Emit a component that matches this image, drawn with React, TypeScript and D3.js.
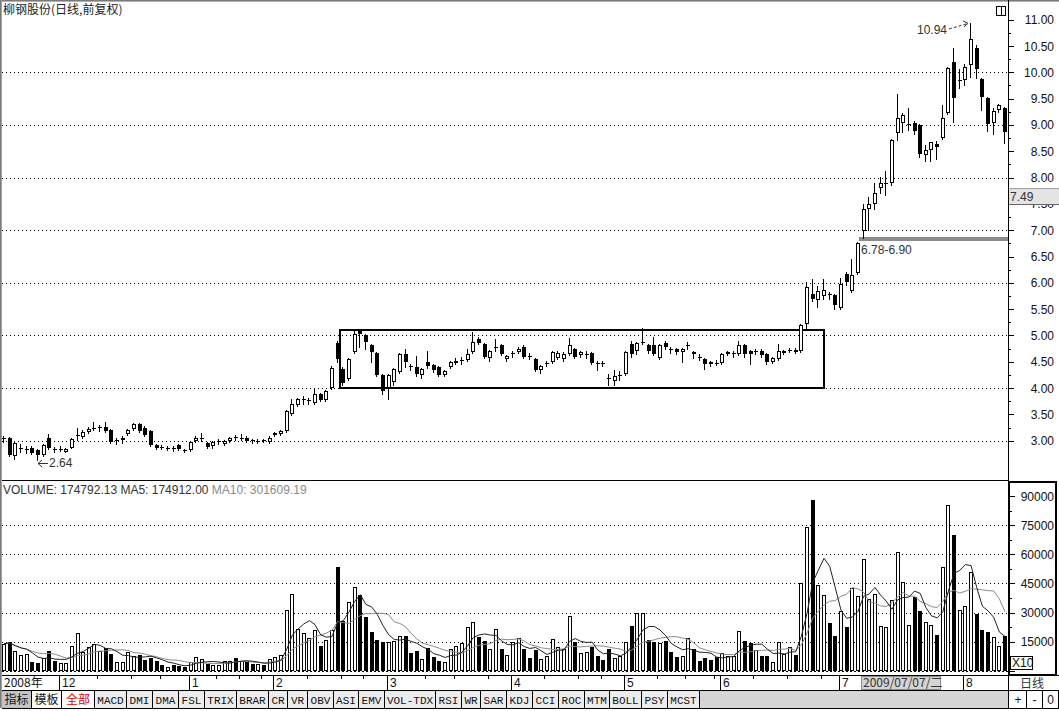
import React from 'react';
import * as d3 from 'd3';

// ---- Daily candles (Nov 2008 – Aug 2009), 柳钢股份 前复权 ----
const OPEN = [
  3.03, 3.06, 2.70, 2.85, 2.83, 2.87, 2.82, 2.72, 3.06, 2.84,
  2.84, 2.79, 2.87, 3.09, 3.07, 3.17, 3.24, 3.25, 3.26, 3.20,
  3.00, 3.02, 3.13, 3.22, 3.31, 3.25, 3.18, 2.92, 2.88, 2.85,
  2.86, 2.92, 2.83, 2.82, 3.00, 3.04, 2.95, 2.89, 2.98, 2.94,
  2.99, 3.07, 3.04, 3.05, 3.01, 2.98, 3.01, 2.97, 3.10, 3.13,
  3.19, 3.51, 3.67, 3.78, 3.76, 3.72, 3.89, 3.78, 4.01, 4.86,
  4.37, 4.18, 4.69, 5.09, 5.00, 4.81, 4.67, 4.24, 4.01, 4.11,
  4.30, 4.65, 4.41, 4.40, 4.24, 4.49, 4.43, 4.40, 4.24, 4.40,
  4.47, 4.53, 4.54, 4.69, 4.94, 4.84, 4.58, 4.77, 4.81, 4.56,
  4.65, 4.69, 4.79, 4.61, 4.56, 4.34, 4.46, 4.49, 4.58, 4.56,
  4.65, 4.75, 4.63, 4.64, 4.67, 4.47, 4.48, 4.19, 4.14, 4.23,
  4.26, 4.84, 4.71, 4.87, 4.81, 4.82, 4.58, 4.86, 4.74, 4.75,
  4.69, 4.80, 4.69, 4.60, 4.56, 4.49, 4.48, 4.47, 4.65, 4.65,
  4.65, 4.81, 4.71, 4.69, 4.71, 4.65, 4.49, 4.56, 4.67, 4.72,
  4.73, 4.70, 5.22, 5.79, 5.67, 5.75, 5.78, 5.76, 5.53, 6.17,
  5.85, 6.19, 6.99, 7.41, 7.49, 7.81, 7.88, 7.89, 8.84, 9.03,
  9.00, 9.03, 8.99, 8.42, 8.53, 8.64, 8.76, 9.22, 10.19, 9.85,
  9.86, 10.13, 10.47, 9.88, 9.52, 9.03, 9.29, 9.33,
];
const HIGH = [
  3.08, 3.07, 2.98, 2.93, 2.90, 2.89, 2.84, 2.93, 3.12, 2.88,
  2.89, 2.87, 3.05, 3.24, 3.20, 3.26, 3.35, 3.30, 3.35, 3.22,
  3.06, 3.08, 3.22, 3.33, 3.33, 3.27, 3.20, 2.94, 2.91, 2.90,
  2.89, 2.94, 2.85, 2.99, 3.08, 3.14, 2.98, 2.99, 3.03, 3.02,
  3.07, 3.10, 3.12, 3.08, 3.04, 3.03, 3.03, 3.08, 3.17, 3.20,
  3.59, 3.80, 3.82, 3.85, 3.82, 4.00, 3.91, 3.97, 4.41, 4.90,
  4.40, 4.58, 5.08, 5.12, 5.02, 4.83, 4.69, 4.26, 4.27, 4.39,
  4.67, 4.75, 4.46, 4.61, 4.39, 4.70, 4.45, 4.42, 4.35, 4.51,
  4.58, 4.60, 4.75, 5.07, 4.98, 4.86, 4.73, 4.94, 4.83, 4.63,
  4.70, 4.79, 4.81, 4.66, 4.58, 4.43, 4.52, 4.71, 4.70, 4.68,
  4.95, 4.77, 4.70, 4.70, 4.69, 4.52, 4.52, 4.26, 4.35, 4.33,
  4.70, 4.90, 4.88, 5.15, 4.83, 4.98, 4.84, 4.90, 4.79, 4.77,
  4.77, 4.88, 4.71, 4.65, 4.58, 4.51, 4.54, 4.67, 4.71, 4.70,
  4.90, 4.84, 4.73, 4.75, 4.74, 4.67, 4.59, 4.83, 4.73, 4.77,
  4.76, 5.21, 6.02, 6.08, 5.94, 6.08, 5.82, 5.78, 6.09, 6.20,
  6.45, 6.78, 7.50, 7.63, 7.90, 8.01, 8.12, 8.74, 9.58, 9.22,
  9.32, 9.08, 9.01, 8.62, 8.68, 8.70, 9.37, 10.11, 10.47, 10.06,
  10.16, 10.94, 10.52, 9.90, 9.54, 9.32, 9.40, 9.35,
];
const LOW = [
  2.98, 2.70, 2.66, 2.78, 2.76, 2.75, 2.64, 2.70, 2.85, 2.78,
  2.80, 2.78, 2.86, 3.02, 3.05, 3.15, 3.20, 3.18, 3.17, 2.95,
  2.94, 2.96, 3.11, 3.20, 3.17, 3.08, 2.90, 2.85, 2.84, 2.82,
  2.81, 2.83, 2.79, 2.80, 2.98, 3.00, 2.86, 2.87, 2.94, 2.92,
  2.97, 3.02, 3.01, 2.98, 2.96, 2.95, 2.97, 2.95, 3.08, 3.11,
  3.17, 3.49, 3.65, 3.69, 3.70, 3.70, 3.76, 3.76, 3.99, 4.50,
  4.05, 4.16, 4.67, 4.78, 4.74, 4.50, 4.22, 3.88, 3.80, 4.05,
  4.28, 4.40, 4.35, 4.22, 4.20, 4.39, 4.30, 4.22, 4.22, 4.38,
  4.45, 4.45, 4.52, 4.67, 4.84, 4.57, 4.52, 4.70, 4.63, 4.52,
  4.60, 4.67, 4.58, 4.55, 4.32, 4.28, 4.42, 4.47, 4.55, 4.52,
  4.63, 4.58, 4.60, 4.58, 4.45, 4.34, 4.41, 4.05, 4.05, 4.15,
  4.24, 4.60, 4.65, 4.84, 4.66, 4.63, 4.56, 4.74, 4.66, 4.64,
  4.50, 4.74, 4.58, 4.54, 4.37, 4.42, 4.43, 4.45, 4.62, 4.60,
  4.63, 4.60, 4.46, 4.65, 4.60, 4.46, 4.47, 4.54, 4.64, 4.68,
  4.66, 4.68, 5.12, 5.66, 5.55, 5.70, 5.70, 5.51, 5.51, 5.96,
  5.83, 6.17, 6.85, 7.00, 7.40, 7.70, 7.66, 7.85, 8.72, 8.86,
  8.90, 8.82, 8.40, 8.31, 8.32, 8.35, 8.74, 9.20, 9.06, 9.70,
  9.75, 9.92, 9.90, 9.28, 8.89, 8.82, 9.25, 8.65,
];
const CLOSE = [
  3.05, 2.72, 2.96, 2.86, 2.84, 2.77, 2.72, 2.91, 2.87, 2.83,
  2.85, 2.85, 3.03, 3.10, 3.16, 3.23, 3.25, 3.26, 3.19, 2.97,
  3.01, 3.06, 3.20, 3.31, 3.19, 3.10, 2.92, 2.87, 2.87, 2.86,
  2.85, 2.85, 2.82, 2.97, 3.06, 3.05, 2.88, 2.97, 2.99, 3.00,
  3.05, 3.05, 3.05, 3.00, 3.00, 2.99, 2.99, 3.06, 3.15, 3.18,
  3.57, 3.70, 3.79, 3.79, 3.77, 3.89, 3.78, 3.95, 4.39, 4.56,
  4.10, 4.56, 5.03, 5.03, 4.88, 4.69, 4.24, 3.95, 4.24, 4.37,
  4.65, 4.49, 4.40, 4.27, 4.37, 4.41, 4.34, 4.24, 4.33, 4.49,
  4.52, 4.54, 4.65, 4.88, 4.86, 4.59, 4.71, 4.78, 4.65, 4.61,
  4.66, 4.75, 4.60, 4.60, 4.34, 4.41, 4.47, 4.69, 4.67, 4.65,
  4.81, 4.60, 4.68, 4.65, 4.47, 4.46, 4.47, 4.18, 4.22, 4.24,
  4.68, 4.65, 4.86, 4.88, 4.71, 4.65, 4.82, 4.79, 4.73, 4.69,
  4.75, 4.81, 4.65, 4.59, 4.46, 4.46, 4.47, 4.65, 4.69, 4.66,
  4.81, 4.65, 4.65, 4.71, 4.63, 4.49, 4.57, 4.71, 4.71, 4.73,
  4.69, 5.19, 5.93, 5.70, 5.84, 5.86, 5.77, 5.57, 5.98, 6.02,
  6.14, 6.76, 7.41, 7.49, 7.71, 7.89, 7.89, 8.72, 9.14, 9.18,
  9.01, 8.88, 8.44, 8.53, 8.67, 8.58, 9.14, 10.09, 9.52, 9.86,
  10.11, 10.64, 10.07, 9.54, 9.01, 9.27, 9.37, 8.87,
];
// volume in the panel's units (the axis is marked X10)
const VOLUME = [
  14000, 14600, 10300, 8300, 8500, 4650, 3800, 6400, 10300, 5000,
  3900, 3900, 12900, 19300, 9800, 12000, 14000, 10300, 11500, 8900,
  4650, 4650, 9500, 7700, 8300, 5700, 6400, 5000, 3100, 2100,
  3100, 2400, 2200, 4650, 6900, 6000, 3400, 3100, 3100, 5000,
  5300, 6400, 5000, 4300, 3400, 3400, 3100, 6000, 6900, 8300,
  31500, 39300, 21700, 19600, 17000, 21200, 12900, 15900, 21200, 53250,
  25800, 35300, 42900, 38800, 27900, 19800, 15900, 14600, 15000, 15500,
  18100, 18100, 9000, 10300, 6200, 11700, 6900, 5000, 4500, 11200,
  12900, 14100, 22400, 25300, 17600, 15500, 11200, 21500, 11200, 8300,
  14600, 16900, 11200, 6500, 10800, 6000, 7700, 16400, 12000, 11200,
  28400, 15000, 9000, 9500, 12000, 7700, 5700, 11200, 6500, 7400,
  14600, 23300, 30000, 30000, 15900, 15000, 14100, 15500, 9800, 7100,
  7700, 16900, 11200, 5000, 6500, 5700, 6900, 9100, 7400, 7400,
  20700, 15500, 14100, 10700, 7700, 7400, 4700, 15000, 8600, 12400,
  8300, 45000, 73900, 87900, 44000, 38800, 24500, 18100, 31000, 22700,
  42400, 38300, 57400, 37200, 39300, 22900, 22400, 36700, 61200, 45500,
  23800, 37900, 31000, 25000, 23800, 18600, 53200, 85300, 69800, 31500,
  33600, 50700, 29000, 21200, 19800, 17200, 12600, 17700,
];

const PRICE_LABELS = [3, 3.5, 4, 4.5, 5, 5.5, 6, 6.5, 7, 7.5, 8, 8.5, 9, 9.5, 10, 10.5, 11];
const PRICE_GRID = [3, 4, 5, 6, 7, 8, 9, 10];
const VOL_LABELS = [15000, 30000, 45000, 60000, 75000, 90000];
const VOL_GRID = [15000, 30000, 45000, 60000, 75000];
const MONTH_START = [10, 33, 48, 68, 90, 110, 127, 148, 170];
const MONTH_LABELS = ['12', '1', '2', '3', '4', '5', '6', '7', '8'];
const WEEK_START = [17, 23, 28, 38, 42, 46, 54, 60, 64, 75, 80, 86, 96, 102, 106, 116, 121, 126, 133, 139, 145];
const TABS = ['MACD', 'DMI', 'DMA', 'FSL', 'TRIX', 'BRAR', 'CR', 'VR', 'OBV', 'ASI', 'EMV', 'VOL-TDX', 'RSI', 'WR', 'SAR', 'KDJ', 'CCI', 'ROC', 'MTM', 'BOLL', 'PSY', 'MCST'];

// annotations (data domain)
const BOX = { i0: 59.2, i1: 144.8, p0: 4.02, p1: 5.12 };
const BAND = { i0: 151.2, p0: 6.78, p1: 6.9 };
const HIGH_MARK = { i: 171, p: 10.94 };
const LOW_MARK = { i: 6, p: 2.64 };
const CURSOR = 153;

const SANS = '"Liberation Sans", Arial, sans-serif';
const CJK = '"Noto Sans CJK SC", "Liberation Sans", sans-serif';
const MONO = '"Liberation Mono", "DejaVu Sans Mono", monospace';

export default function App() {
  const N = CLOSE.length;
  const x = d3.scaleLinear().domain([0, N - 1]).range([4, 1005]);
  const cx = (i: number) => Math.round(x(i));
  const yP = d3.scaleLinear().domain([3, 11]).range([440.7, 19.7]);
  const yV = d3.scaleLinear().domain([0, 90000]).range([670.8, 496]);
  const f2 = d3.format('.2f');

  const ma = (n: number) =>
    VOLUME.map((_, i) => d3.mean(VOLUME.slice(Math.max(0, i - n + 1), i + 1)) as number);
  const ma5 = ma(5);
  const ma10 = ma(10);
  const line = d3.line<number>().x((_, i) => x(i)).y((v) => yV(v));

  const axisX = 1008.5;
  const priceMinor = d3.range(3, 11.01, 0.25);
  const volMinor = d3.range(0, 90001, 7500);

  // tab layout
  let tx = 94;
  const tabs = TABS.map((t) => {
    const w = t.length * 6.3 + 6.9;
    const r = { t, x0: Math.round(tx), x1: Math.round(tx + w) };
    tx += w;
    return r;
  });
  const tabsEnd = Math.round(tx);

  const base = Math.round(yV(0));

  return (
    <svg width={1059} height={711} style={{ position: 'absolute', left: 0, top: 0, background: '#fff' }}
      shapeRendering="crispEdges">
      <rect x={0} y={0} width={1059} height={711} fill="#fff" />
      {/* window border */}
      <line x1={0} x2={1059} y1={0.5} y2={0.5} stroke="#7a7a7a" />
      <line x1={0} x2={1059} y1={1.5} y2={1.5} stroke="#b0b0b0" />
      <line x1={0.5} x2={0.5} y1={0} y2={708} stroke="#7a7a7a" />
      <line x1={1.5} x2={1.5} y1={0} y2={708} stroke="#a0a0a0" />

      {/* title */}
      <text x={3} y={14} fontSize={12} fontFamily={CJK} fill="#222">柳钢股份(日线,前复权)</text>
      <rect x={996.5} y={6.5} width={9} height={9} fill="none" stroke="#000" />
      <line x1={1001.5} x2={1001.5} y1={6.5} y2={15.5} stroke="#000" />

      {/* price grid */}
      {PRICE_GRID.map((p) => (
        <line key={p} x1={2} x2={1008} y1={Math.round(yP(p)) + 0.5} y2={Math.round(yP(p)) + 0.5}
          stroke="#000" strokeDasharray="1,3" />
      ))}

      {/* consolidation box */}
      <rect x={Math.round(x(BOX.i0)) + 0.5} y={Math.round(yP(BOX.p1)) + 0.5}
        width={Math.round(x(BOX.i1)) - Math.round(x(BOX.i0))}
        height={Math.round(yP(BOX.p0)) - Math.round(yP(BOX.p1))}
        fill="none" stroke="#000" strokeWidth={2} />

      {/* support band */}
      <rect x={x(BAND.i0)} y={yP(BAND.p1) + 1.5} width={1008 - x(BAND.i0)} height={yP(BAND.p0) - yP(BAND.p1) - 2}
        fill="#8c8c8c" />
      <text x={x(BAND.i0) + 2} y={254} fontSize={12} fontFamily={SANS} fill="#333">
        {f2(BAND.p0)}-{f2(BAND.p1)}
      </text>

      {/* candles */}
      {CLOSE.map((c, i) => {
        const o = OPEN[i];
        const X = cx(i);
        const up = c >= o;
        const yT = Math.round(yP(Math.max(o, c)));
        const yB = Math.round(yP(Math.min(o, c)));
        const yH = Math.round(yP(HIGH[i]));
        const yL = Math.round(yP(LOW[i]));
        const bh = yB - yT;
        return (
          <g key={i}>
            <line x1={X - 0.5} x2={X - 0.5} y1={yH} y2={yL + 1} stroke="#000" />
            {bh <= 1 ? (
              <rect x={X - 2} y={yT} width={4} height={1} fill="#000" />
            ) : up ? (
              <rect x={X - 1.5} y={yT + 0.5} width={3} height={bh - 1} fill="#fff" stroke="#000" />
            ) : (
              <rect x={X - 2} y={yT} width={4} height={bh} fill="#000" />
            )}
          </g>
        );
      })}

      {/* high / low marks */}
      <text x={cx(HIGH_MARK.i) - 24} y={34} fontSize={12} fontFamily={SANS} fill="#333" textAnchor="end">
        {f2(HIGH_MARK.p)}
      </text>
      <line x1={cx(HIGH_MARK.i) - 22} y1={29} x2={cx(HIGH_MARK.i) - 3} y2={yP(HIGH_MARK.p) + 0.5}
        stroke="#333" strokeDasharray="3,2" shapeRendering="auto" />
      <path d={`M${cx(HIGH_MARK.i) - 8},${yP(HIGH_MARK.p) - 2} L${cx(HIGH_MARK.i) - 3},${yP(HIGH_MARK.p) + 0.5} L${cx(HIGH_MARK.i) - 7},${yP(HIGH_MARK.p) + 4}`}
        fill="none" stroke="#333" shapeRendering="auto" />
      <line x1={cx(LOW_MARK.i)} x2={cx(LOW_MARK.i) + 10} y1={463.5} y2={463.5} stroke="#333" />
      <path d={`M${cx(LOW_MARK.i) + 4},${460} L${cx(LOW_MARK.i)},${463.5} L${cx(LOW_MARK.i) + 4},${467}`}
        fill="none" stroke="#333" shapeRendering="auto" />
      <text x={cx(LOW_MARK.i) + 11} y={467} fontSize={12} fontFamily={SANS} fill="#333">{f2(LOW_MARK.p)}</text>

      {/* price axis */}
      <line x1={axisX} x2={axisX} y1={0} y2={675} stroke="#000" />
      {priceMinor.map((p) => {
        const major = Math.abs(p * 2 - Math.round(p * 2)) < 1e-6;
        const y = Math.round(yP(p)) + 0.5;
        return <line key={p} x1={1009} x2={major ? 1014 : 1011} y1={y} y2={y} stroke="#000" />;
      })}
      {PRICE_LABELS.map((p) => (
        <text key={p} x={1054} y={yP(p) + 4.5} fontSize={12} fontFamily={SANS} fill="#111" textAnchor="end">
          {f2(p)}
        </text>
      ))}
      {/* cursor price box */}
      <rect x={1009} y={188} width={50} height={16} fill="#e4e4e4" />
      <line x1={1009} x2={1059} y1={188.5} y2={188.5} stroke="#a0a0a0" />
      <line x1={1009} x2={1059} y1={204.5} y2={204.5} stroke="#666" />
      <text x={1010} y={201} fontSize={12} fontFamily={SANS} fill="#333">{f2(CLOSE[CURSOR])}</text>

      {/* panel separator */}
      <line x1={2} x2={1008} y1={480.5} y2={480.5} stroke="#000" />

      {/* volume legend */}
      <text x={3} y={494} fontSize={12} fontFamily={SANS}>
        <tspan fill="#333">VOLUME: 174792.13 </tspan>
        <tspan fill="#333">MA5: 174912.00 </tspan>
        <tspan fill="#8a8a8a">MA10: 301609.19</tspan>
      </text>

      {/* volume grid */}
      {VOL_GRID.map((v) => (
        <line key={v} x1={2} x2={1008} y1={Math.round(yV(v)) + 0.5} y2={Math.round(yV(v)) + 0.5}
          stroke="#000" strokeDasharray="1,3" />
      ))}

      {/* volume bars */}
      {VOLUME.map((v, i) => {
        const X = cx(i);
        const up = CLOSE[i] >= OPEN[i];
        const yv = Math.round(yV(v));
        return up ? (
          <rect key={i} x={X - 1.5} y={yv + 0.5} width={3} height={base - yv - 1} fill="#fff" stroke="#000" />
        ) : (
          <rect key={i} x={X - 2} y={yv} width={4} height={base - yv} fill="#000" />
        );
      })}
      <path d={line(ma10) || ''} fill="none" stroke="#8a8a8a" shapeRendering="auto" />
      <path d={line(ma5) || ''} fill="none" stroke="#222" shapeRendering="auto" />

      {/* volume axis */}
      {volMinor.map((v) => {
        const major = v % 15000 === 0;
        const y = Math.round(yV(v)) + 0.5;
        return <line key={v} x1={1010} x2={major ? 1015 : 1012} y1={y} y2={y} stroke="#000" />;
      })}
      {VOL_LABELS.map((v) => (
        <text key={v} x={1054} y={yV(v) + 4.5} fontSize={12} fontFamily={SANS} fill="#111" textAnchor="end">
          {v}
        </text>
      ))}
      <rect x={1010.5} y={656.5} width={22} height={13} fill="#fff" stroke="#000" />
      <text x={1012} y={667} fontSize={12} fontFamily={SANS} fill="#111">X10</text>
      <rect x={1009} y={481.5} width={47} height={193} fill="none" stroke="#000" strokeWidth={2} />

      {/* volume bottom dashed */}
      <line x1={2} x2={1008} y1={671.5} y2={671.5} stroke="#000" strokeDasharray="2,2" />

      {/* date row */}
      <line x1={2} x2={1059} y1={675.5} y2={675.5} stroke="#000" />
      <line x1={2} x2={1059} y1={690.5} y2={690.5} stroke="#000" />
      <text x={4} y={687} fontSize={12} fontFamily={CJK} fill="#111">2008年</text>
      {WEEK_START.map((k) => (
        <line key={k} x1={Math.round(x(k) - 2.8) + 0.5} x2={Math.round(x(k) - 2.8) + 0.5} y1={676} y2={679} stroke="#000" />
      ))}
      {MONTH_START.map((k, j) => (
        <g key={k}>
          <line x1={cx(k) - 1.5} x2={cx(k) - 1.5} y1={676} y2={690} stroke="#000" />
          <text x={cx(k) + 1} y={687} fontSize={12} fontFamily={SANS} fill="#111">{MONTH_LABELS[j]}</text>
        </g>
      ))}
      <rect x={cx(CURSOR) - 7.5} y={676.5} width={79} height={13} fill="#d4d4d4" stroke="#8a8a8a" />
      <text x={cx(CURSOR) - 6} y={687} fontSize={12} fontFamily={CJK} fill="#333">2009/07/07/二</text>
      <line x1={1008.5} x2={1008.5} y1={675} y2={708} stroke="#000" />
      <text x={1032} y={688} fontSize={12} fontFamily={CJK} fill="#333" textAnchor="middle">日线</text>

      {/* tab row */}
      <rect x={2} y={691} width={1006} height={17} fill="#d6d6d6" />
      <rect x={2} y={691} width={29} height={17} fill="#c4c4c4" />
      <text x={16.5} y={704} fontSize={12} fontFamily={CJK} fill="#111" textAnchor="middle">指标</text>
      <line x1={31.5} x2={31.5} y1={691} y2={708} stroke="#000" />
      <rect x={32} y={691} width={29} height={17} fill="#fff" />
      <text x={46.5} y={704} fontSize={12} fontFamily={CJK} fill="#111" textAnchor="middle">模板</text>
      <line x1={61.5} x2={61.5} y1={691} y2={708} stroke="#000" />
      <rect x={62} y={691} width={32} height={17} fill="#fff" />
      <text x={78} y={704} fontSize={12} fontFamily={CJK} fill="#e00000" textAnchor="middle">全部</text>
      <line x1={94.5} x2={94.5} y1={691} y2={708} stroke="#000" />
      {tabs.map((t) => (
        <g key={t.t}>
          <rect x={t.x0 + 1} y={691} width={t.x1 - t.x0 - 1} height={17} fill="#ececec" />
          <text x={(t.x0 + t.x1) / 2 + 0.5} y={703.5} fontSize={11} fontFamily={MONO} fill="#111" textAnchor="middle">{t.t}</text>
          <line x1={t.x1 + 0.5} x2={t.x1 + 0.5} y1={691} y2={708} stroke="#000" />
        </g>
      ))}
      <rect x={tabsEnd + 1} y={691} width={1008 - tabsEnd - 1} height={17} fill="#d6d6d6" />
      <rect x={1009} y={691} width={50} height={17} fill="#fff" />
      {[['+', 1009, 1026], ['-', 1026, 1042], ['0', 1042, 1058]].map(([s, a, b]) => (
        <g key={s as string}>
          <line x1={(b as number) + 0.5} x2={(b as number) + 0.5} y1={691} y2={708} stroke="#000" />
          <text x={((a as number) + (b as number)) / 2 + 0.5} y={704} fontSize={12} fontFamily={SANS} fill="#111" textAnchor="middle">{s}</text>
        </g>
      ))}
      <line x1={2} x2={1059} y1={708.5} y2={708.5} stroke="#000" />
    </svg>
  );
}
